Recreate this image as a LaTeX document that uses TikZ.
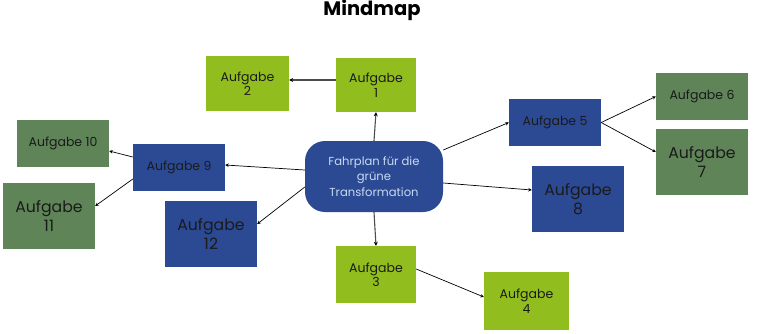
\documentclass[tikz,border=0pt]{standalone}
\usepackage{fontspec}
\setmainfont{Poppins}
\usetikzlibrary{arrows.meta,calc}
\definecolor{lime}{HTML}{92BD1F}
\definecolor{navy}{HTML}{2C4A94}
\definecolor{sage}{HTML}{5E8457}
\definecolor{paleblue}{HTML}{C9D9F2}
\definecolor{txt}{HTML}{1A1A1A}
\tikzset{
  box/.style={rectangle, inner sep=0pt, align=center, text=txt},
  smallfont/.style={font=\fontsize{12.5}{14.5}\selectfont},
  bigfont/.style={font=\fontsize{15.7}{18.5}\selectfont},
  limebox/.style={box, fill=lime, smallfont},
  navysmall/.style={box, fill=navy, smallfont},
  navybig/.style={box, fill=navy, bigfont},
  sagesmall/.style={box, fill=sage, smallfont},
  sagebig/.style={box, fill=sage, bigfont},
  conn/.style={draw=black, line width=0.7pt, -{Stealth[length=3.5pt,width=3.5pt]}},
  connthick/.style={draw=black!70, line width=1.1pt, -{Stealth[length=4pt,width=4pt,color=black]}},
}
\begin{document}
\begin{tikzpicture}[x=1pt,y=-1pt]
\useasboundingbox (0,0) rectangle (757,333);
\node[font=\bfseries\fontsize{19.5}{22}\selectfont] (title) at (372,10) {Mindmap};

\node[fill=navy, rounded corners=20pt, minimum width=138pt, minimum height=71pt, inner sep=0pt,
      align=center, text=paleblue, font=\fontsize{11.6}{15.5}\selectfont] (c) at (374,176.5)
      {Fahrplan für die\\grüne\\Transformation};

\node[limebox, minimum width=80pt, minimum height=54pt] (a1) at (376,85) {Aufgabe\\1};
\node[limebox, minimum width=83pt, minimum height=55pt] (a2) at (247.5,83.5) {Aufgabe\\2};
\node[limebox, minimum width=80pt, minimum height=57pt] (a3) at (376,274.5) {Aufgabe\\3};
\node[limebox, minimum width=85pt, minimum height=58pt] (a4) at (526.5,301) {Aufgabe\\4};

\node[navysmall, minimum width=92pt, minimum height=47pt] (a5) at (555,122.5) {Aufgabe 5};
\node[sagesmall, minimum width=92pt, minimum height=47pt] (a6) at (702,96.5) {Aufgabe 6};
\node[sagebig, minimum width=92pt, minimum height=66pt] (a7) at (702,162) {Aufgabe\\7};
\node[navybig, minimum width=92pt, minimum height=66pt] (a8) at (578,199) {Aufgabe\\8};

\node[navysmall, minimum width=92pt, minimum height=47pt] (a9) at (179,167.5) {Aufgabe 9};
\node[sagesmall, minimum width=92pt, minimum height=47pt] (a10) at (63,143.5) {Aufgabe 10};
\node[sagebig, minimum width=92pt, minimum height=66pt] (a11) at (49,216) {Aufgabe\\11};
\node[navybig, minimum width=92pt, minimum height=66pt] (a12) at (211,234) {Aufgabe\\12};

% connectors
\draw[connthick] (c.north) -- (a1.south);
\draw[connthick] ([yshift=5pt]a1.west) -- ([yshift=3.5pt]a2.east);
\draw[connthick] (c.south) -- (a3.north);
\draw[conn] ([yshift=5.5pt]a3.east) -- ([yshift=4pt]a4.west);
\draw[conn] ([yshift=26.5pt]c.east) -- (a5.west);
\draw[conn] (a5.east) -- (a6.west);
\draw[conn] (a5.east) -- ([yshift=10pt]a7.west);
\draw[conn] ([yshift=-6.5pt]c.east) -- ([yshift=9pt]a8.west);
\draw[conn] ([yshift=6.5pt]c.west) -- ([yshift=2.5pt]a9.east);
\draw[conn] ([yshift=10.5pt]a9.west) -- ([yshift=-7.5pt]a10.east);
\draw[conn] ([yshift=-11.5pt]a9.west) -- ([yshift=10pt]a11.east);
\draw[conn] ([yshift=-10.5pt]c.west) -- ([yshift=10pt]a12.east);
\end{tikzpicture}
\end{document}
